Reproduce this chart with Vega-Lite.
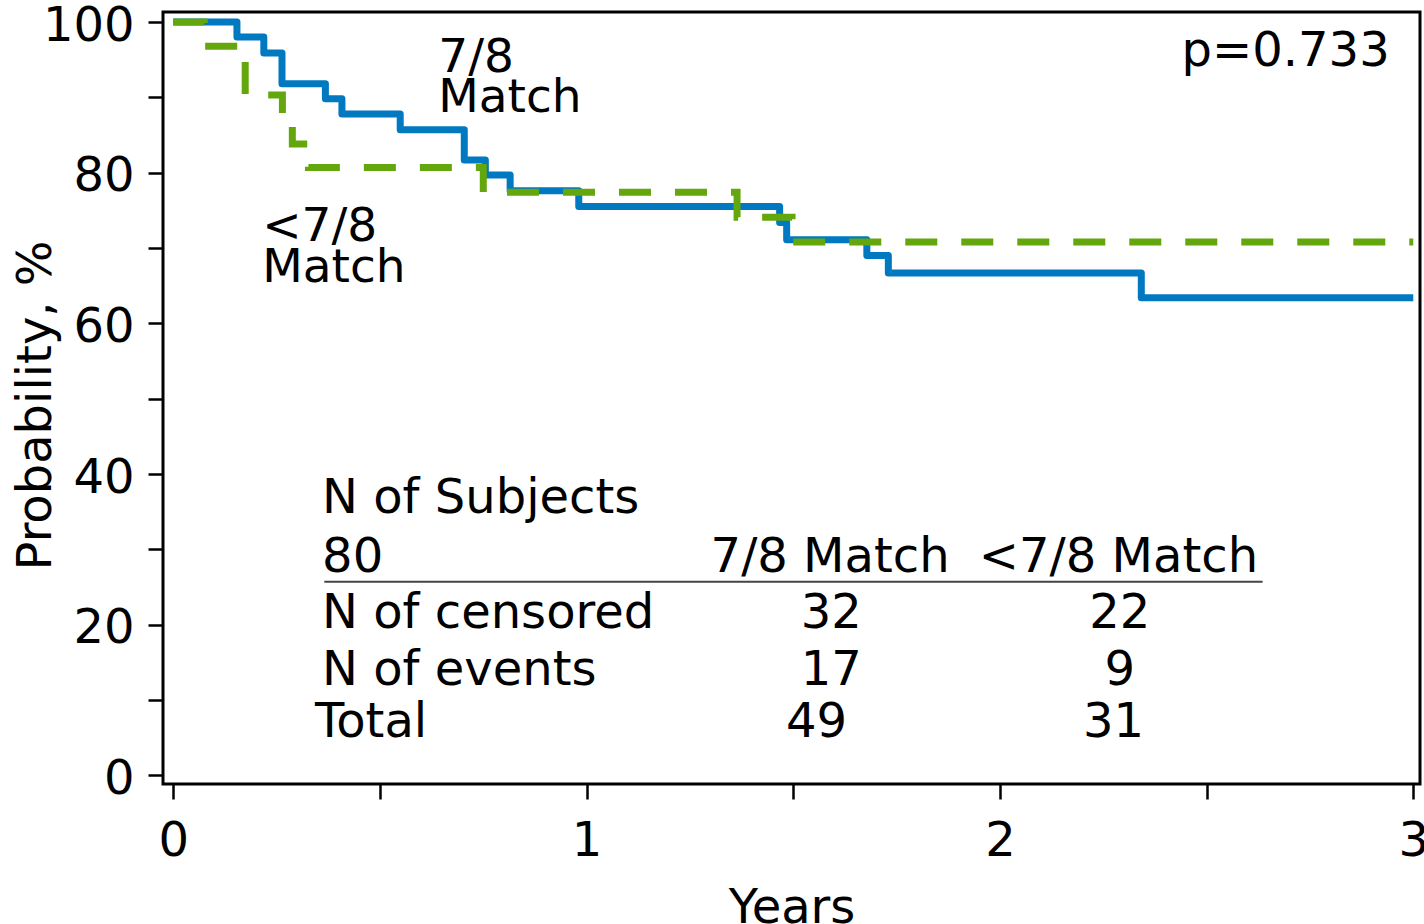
{
  "$schema": "https://vega.github.io/schema/vega-lite/v6.json",
  "width": 1257,
  "height": 772,
  "autosize": {"type": "none"},
  "padding": {"left": 163, "top": 12, "right": 4, "bottom": 140},
  "background": "white",
  "config": {
    "view": {"stroke": "black", "strokeWidth": 3},
    "font": "DejaVu Sans"
  },
  "datasets": {
    "curves": [
      {"group": "7/8 Match", "t": 0, "p": 100},
      {"group": "7/8 Match", "t": 0.154, "p": 98.0},
      {"group": "7/8 Match", "t": 0.219, "p": 95.9},
      {"group": "7/8 Match", "t": 0.263, "p": 91.8},
      {"group": "7/8 Match", "t": 0.368, "p": 89.8},
      {"group": "7/8 Match", "t": 0.408, "p": 87.8},
      {"group": "7/8 Match", "t": 0.549, "p": 85.7},
      {"group": "7/8 Match", "t": 0.704, "p": 81.7},
      {"group": "7/8 Match", "t": 0.755, "p": 79.7},
      {"group": "7/8 Match", "t": 0.815, "p": 77.6},
      {"group": "7/8 Match", "t": 0.981, "p": 75.5},
      {"group": "7/8 Match", "t": 1.467, "p": 73.4},
      {"group": "7/8 Match", "t": 1.484, "p": 71.1},
      {"group": "7/8 Match", "t": 1.678, "p": 69.0},
      {"group": "7/8 Match", "t": 1.730, "p": 66.7},
      {"group": "7/8 Match", "t": 2.342, "p": 63.4},
      {"group": "7/8 Match", "t": 3.0, "p": 63.4},
      {"group": "<7/8 Match", "t": 0, "p": 100},
      {"group": "<7/8 Match", "t": 0.075, "p": 96.8},
      {"group": "<7/8 Match", "t": 0.174, "p": 90.3},
      {"group": "<7/8 Match", "t": 0.264, "p": 87.1},
      {"group": "<7/8 Match", "t": 0.288, "p": 83.8},
      {"group": "<7/8 Match", "t": 0.327, "p": 80.7},
      {"group": "<7/8 Match", "t": 0.75, "p": 77.4},
      {"group": "<7/8 Match", "t": 1.364, "p": 74.1},
      {"group": "<7/8 Match", "t": 1.497, "p": 70.8},
      {"group": "<7/8 Match", "t": 3.0, "p": 70.8}
    ],
    "texts": [
      {"kind": "annot", "t": 0.641, "p": 93.4, "label": "7/8"},
      {"kind": "annot", "t": 0.641, "p": 88.1, "label": "Match"},
      {"kind": "annot", "t": 0.215, "p": 71.0, "label": "<7/8"},
      {"kind": "annot", "t": 0.215, "p": 65.5, "label": "Match"},
      {"kind": "pval", "t": 2.943, "p": 94.1, "label": "p=0.733"},
      {"kind": "table", "t": 0.360, "p": 34.8, "label": "N of Subjects"},
      {"kind": "table", "t": 0.360, "p": 27.0, "label": "80"},
      {"kind": "table", "t": 1.300, "p": 27.0, "label": "7/8 Match"},
      {"kind": "table", "t": 1.949, "p": 27.0, "label": "<7/8 Match"},
      {"kind": "table", "t": 0.360, "p": 19.6, "label": "N of censored"},
      {"kind": "table", "t": 0.360, "p": 12.0, "label": "N of events"},
      {"kind": "table", "t": 0.343, "p": 5.1, "label": "Total"},
      {"kind": "num", "t": 1.592, "p": 19.6, "label": "32"},
      {"kind": "num", "t": 2.290, "p": 19.6, "label": "22"},
      {"kind": "num", "t": 1.592, "p": 12.0, "label": "17"},
      {"kind": "num", "t": 2.290, "p": 12.0, "label": "9"},
      {"kind": "num", "t": 1.556, "p": 5.1, "label": "49"},
      {"kind": "num", "t": 2.275, "p": 5.1, "label": "31"}
    ],
    "rules": [
      {"t": 0.3654, "t2": 2.6355, "p": 25.7}
    ]
  },
  "encoding": {
    "x": {
      "field": "t",
      "type": "quantitative",
      "scale": {"domain": [-0.0249, 3.0163], "nice": false, "zero": false},
      "axis": {
        "title": "Years",
        "values": [0, 0.5, 1, 1.5, 2, 2.5, 3],
        "labelExpr": "datum.value % 1 === 0 ? format(datum.value, 'd') : ''",
        "domain": false,
        "grid": false,
        "ticks": true,
        "tickSize": 15,
        "tickWidth": 2.5,
        "tickColor": "black",
        "labelFontSize": 48,
        "labelFont": "DejaVu Sans",
        "labelColor": "black",
        "labelPadding": 18,
        "labelFlush": false,
        "labelOverlap": false,
        "titleFont": "DejaVu Sans",
        "titleFontSize": 48,
        "titleFontWeight": "normal",
        "titleColor": "black",
        "titleBaseline": "top",
        "titleY": 100
      }
    },
    "y": {
      "field": "p",
      "type": "quantitative",
      "scale": {"domain": [-1.13, 101.33], "nice": false, "zero": false},
      "axis": {
        "title": "Probability, %",
        "values": [0, 10, 20, 30, 40, 50, 60, 70, 80, 90, 100],
        "labelExpr": "datum.value % 20 === 0 ? format(datum.value, 'd') : ''",
        "domain": false,
        "grid": false,
        "tickSize": 15,
        "tickWidth": 2.5,
        "tickColor": "black",
        "labelFontSize": 48,
        "labelFont": "DejaVu Sans",
        "labelColor": "black",
        "labelPadding": 14,
        "labelOffset": 4,
        "labelFlush": false,
        "labelOverlap": false,
        "titleFont": "DejaVu Sans",
        "titleFontSize": 48,
        "titleFontWeight": "normal",
        "titleColor": "black",
        "titleAngle": -90,
        "titleAlign": "center",
        "titleBaseline": "alphabetic",
        "titleX": -113,
        "titleY": 393
      }
    }
  },
  "layer": [
    {
      "data": {"name": "curves"},
      "transform": [{"filter": "datum.group === '7/8 Match'"}],
      "mark": {"type": "line", "interpolate": "step-after", "strokeWidth": 7, "strokeJoin": "round", "color": "#0079C1", "clip": true}
    },
    {
      "data": {"name": "curves"},
      "transform": [{"filter": "datum.group === '<7/8 Match'"}],
      "mark": {"type": "line", "interpolate": "step-after", "strokeWidth": 7, "strokeDash": [32, 24], "strokeCap": "butt", "color": "#63A70C", "clip": true}
    },
    {
      "data": {"name": "texts"},
      "transform": [{"filter": "datum.kind === 'annot'"}],
      "mark": {"type": "text", "align": "left", "baseline": "alphabetic", "fontSize": 47, "font": "DejaVu Sans", "color": "black"},
      "encoding": {"text": {"field": "label"}}
    },
    {
      "data": {"name": "texts"},
      "transform": [{"filter": "datum.kind === 'pval'"}],
      "mark": {"type": "text", "align": "right", "baseline": "alphabetic", "fontSize": 48, "font": "DejaVu Sans", "color": "black"},
      "encoding": {"text": {"field": "label"}}
    },
    {
      "data": {"name": "texts"},
      "transform": [{"filter": "datum.kind === 'table'"}],
      "mark": {"type": "text", "align": "left", "baseline": "alphabetic", "fontSize": 48, "font": "DejaVu Sans", "color": "black"},
      "encoding": {"text": {"field": "label"}}
    },
    {
      "data": {"name": "texts"},
      "transform": [{"filter": "datum.kind === 'num'"}],
      "mark": {"type": "text", "align": "center", "baseline": "alphabetic", "fontSize": 48, "font": "DejaVu Sans", "color": "black"},
      "encoding": {"text": {"field": "label"}}
    },
    {
      "data": {"name": "rules"},
      "mark": {"type": "rule", "color": "#444444", "strokeWidth": 2},
      "encoding": {
        "x": {"field": "t", "type": "quantitative"},
        "x2": {"field": "t2"},
        "y": {"field": "p", "type": "quantitative"}
      }
    }
  ]
}
